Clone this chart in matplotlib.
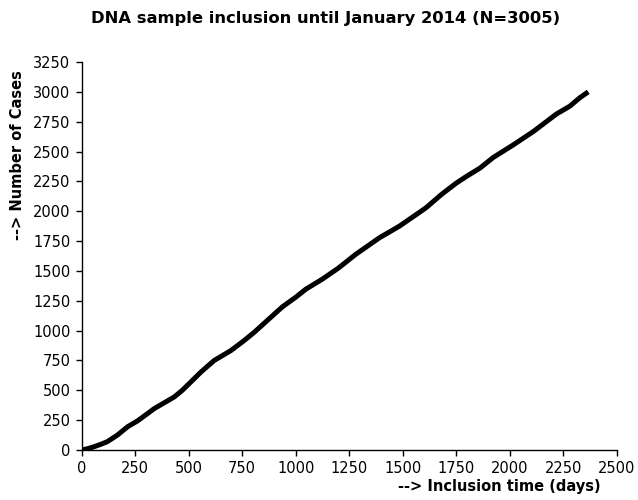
import matplotlib
matplotlib.use('Agg')
import matplotlib.pyplot as plt

# cumulative inclusion
days = [0, 30, 59, 90, 120, 167, 214, 261, 300, 339, 390, 432, 470, 502, 557,
        619, 697, 759, 806, 870, 938, 1000, 1047, 1124, 1200, 1280, 1391, 1484,
        1577, 1609, 1680, 1749, 1800, 1860, 1922, 2016, 2109, 2218, 2280, 2326, 2366]
cases = [0, 12, 28, 48, 70, 125, 194, 244, 295, 347, 400, 444, 500, 556, 653,
         750, 833, 917, 986, 1090, 1200, 1280, 1347, 1431, 1525, 1639, 1778, 1875,
         1990, 2030, 2140, 2235, 2295, 2361, 2450, 2556, 2667, 2815, 2880, 2950, 3000]

x_ticks = list(range(0, 2501, 250))
y_ticks = list(range(0, 3251, 250))

plt.rcParams['font.family'] = ['DejaVu Sans']

fig = plt.figure(figsize=(6.38, 5.0), dpi=100)
ax = fig.add_axes([0.128, 0.10, 0.839, 0.776])

ax.plot(days, cases, color='black', lw=3.6, solid_capstyle='butt')

ax.set_xlim(0, 2500)
ax.set_ylim(0, 3250)
ax.set_xticks(x_ticks)
ax.set_yticks(y_ticks)
ax.tick_params(direction='out', length=4, width=1, labelsize=10.5, pad=4)

for side in ['top', 'right']:
    ax.spines[side].set_visible(False)
for side in ['left', 'bottom']:
    ax.spines[side].set_linewidth(1)

ax.set_xlabel('--> Inclusion time (days)', fontsize=10.5, fontweight='bold')
ax.xaxis.set_label_coords(0.97, -0.075)
ax.xaxis.label.set_horizontalalignment('right')
ax.set_ylabel('--> Number of Cases', fontsize=10.5, fontweight='bold')
ax.yaxis.set_label_coords(-0.12, 0.98)
ax.yaxis.label.set_verticalalignment('center')
ax.yaxis.label.set_horizontalalignment('right')

fig.text(0.51, 0.963, 'DNA sample inclusion until January 2014 (N=3005)',
         ha='center', va='center', fontsize=11.8, fontweight='bold')

fig.savefig('out.png', dpi=100)
plt.close(fig)
